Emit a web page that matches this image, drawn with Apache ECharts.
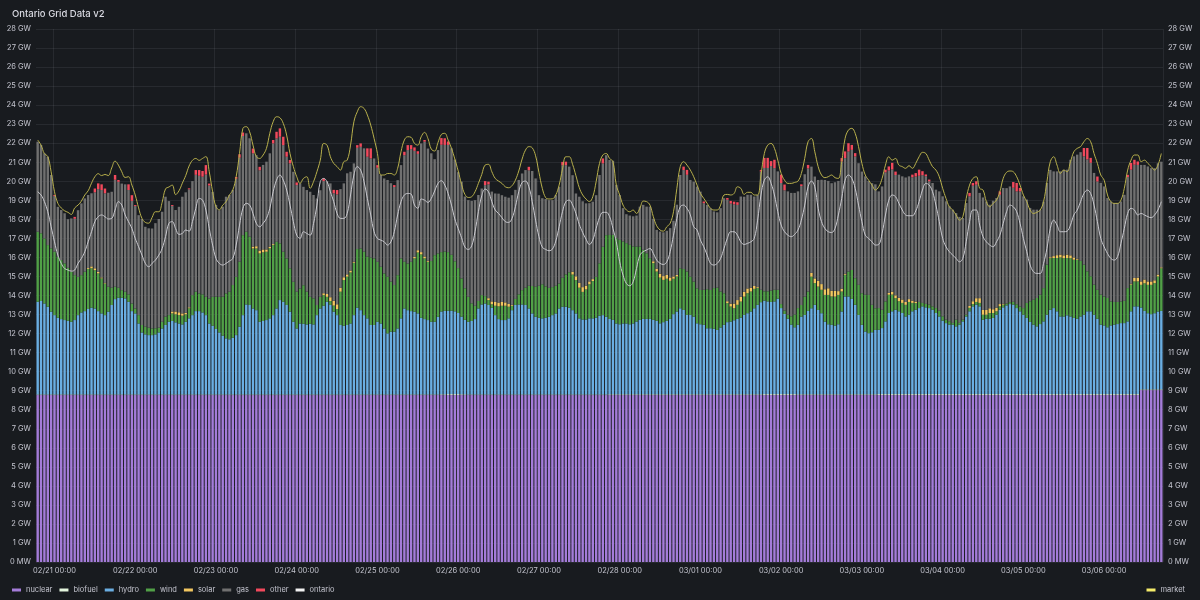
<!DOCTYPE html>
<html>
<head>
<meta charset="utf-8">
<script src="https://cdn.jsdelivr.net/npm/echarts@6/dist/echarts.min.js"></script>
<style>
html,body{margin:0;padding:0;background:#181b1f;}
#chart{width:1200px;height:600px;}
</style>
</head>
<body>
<div id="chart"></div>
<script>
// Hourly values in GW, 02/20 19:00 .. 03/06 17:00 (335 hours)
const START_UTC = Date.UTC(2025, 1, 20, 19);
const HOURS = 335;

const nuclear = [
8.77,8.77,8.77,8.77,8.77,8.77,8.77,8.77,8.77,8.77, 8.77,8.77,8.77,8.77,8.77,8.77,8.77,8.77,8.77,8.77,
8.77,8.77,8.77,8.77,8.77,8.77,8.77,8.77,8.77,8.77, 8.77,8.77,8.77,8.77,8.77,8.77,8.77,8.77,8.77,8.77,
8.77,8.77,8.77,8.77,8.77,8.77,8.77,8.77,8.77,8.77, 8.77,8.77,8.77,8.77,8.77,8.77,8.77,8.77,8.77,8.77,
8.77,8.77,8.77,8.77,8.77,8.77,8.77,8.77,8.77,8.77, 8.77,8.77,8.77,8.77,8.77,8.77,8.77,8.77,8.77,8.77,
8.77,8.77,8.77,8.77,8.77,8.77,8.77,8.77,8.77,8.77, 8.77,8.77,8.77,8.77,8.77,8.77,8.77,8.77,8.77,8.77,
8.77,8.77,8.77,8.77,8.77,8.77,8.77,8.77,8.77,8.77, 8.77,8.77,8.77,8.77,8.77,8.77,8.77,8.77,8.77,8.77,
8.77,8.77,8.77,8.77,8.77,8.77,8.77,8.77,8.77,8.77, 8.77,8.77,8.77,8.77,8.77,8.77,8.77,8.77,8.77,8.77,
8.77,8.77,8.77,8.77,8.77,8.77,8.77,8.77,8.77,8.77, 8.77,8.77,8.77,8.77,8.77,8.77,8.77,8.77,8.77,8.77,
8.77,8.77,8.77,8.77,8.77,8.77,8.77,8.77,8.77,8.77, 8.77,8.77,8.77,8.77,8.77,8.77,8.77,8.77,8.77,8.77,
8.77,8.77,8.77,8.77,8.77,8.77,8.77,8.77,8.77,8.77, 8.77,8.77,8.77,8.77,8.77,8.77,8.77,8.77,8.77,8.77,
8.77,8.77,8.77,8.77,8.77,8.77,8.77,8.77,8.77,8.77, 8.77,8.77,8.77,8.77,8.77,8.77,8.77,8.77,8.77,8.77,
8.77,8.77,8.77,8.77,8.77,8.77,8.77,8.77,8.77,8.77, 8.77,8.77,8.77,8.77,8.77,8.77,8.77,8.77,8.77,8.77,
8.77,8.77,8.77,8.77,8.77,8.77,8.77,8.77,8.77,8.77, 8.77,8.77,8.77,8.77,8.77,8.77,8.77,8.77,8.77,8.77,
8.77,8.77,8.77,8.77,8.77,8.77,8.77,8.77,8.77,8.77, 8.77,8.77,8.77,8.77,8.77,8.77,8.77,8.77,8.77,8.77,
8.77,8.77,8.77,8.77,8.77,8.77,8.77,8.77,8.77,8.77, 8.77,8.77,8.77,8.77,8.77,8.77,8.77,8.77,8.77,8.77,
8.77,8.77,8.77,8.77,8.77,8.77,8.77,8.77,8.77,8.77, 8.77,8.77,8.77,8.77,8.77,8.77,8.77,8.77,8.77,8.77,
8.77,8.77,8.77,8.77,8.77,8.77,8.77,8.77,9.03,9.03, 9.03,9.03,9.03,9.03,9.03
];

const biofuel = [
0.03,0.03,0.03,0.03,0.03,0.03,0.03,0.03,0.03,0.03, 0.03,0.03,0.03,0.03,0.03,0.03,0.03,0.03,0.03,0.03,
0.03,0.03,0.03,0.03,0.03,0.03,0.03,0.03,0.03,0.03, 0.03,0.03,0.03,0.03,0.03,0.03,0.03,0.03,0.03,0.03,
0.03,0.03,0.03,0.03,0.03,0.03,0.03,0.03,0.03,0.03, 0.03,0.03,0.03,0.03,0.03,0.03,0.03,0.03,0.03,0.03,
0.03,0.03,0.03,0.03,0.03,0.03,0.03,0.03,0.03,0.03, 0.03,0.03,0.03,0.03,0.03,0.03,0.03,0.03,0.03,0.03,
0.03,0.03,0.03,0.03,0.03,0.03,0.03,0.03,0.03,0.03, 0.03,0.03,0.03,0.03,0.03,0.03,0.03,0.03,0.03,0.03,
0.03,0.03,0.03,0.03,0.03,0.03,0.03,0.03,0.03,0.03, 0.03,0.03,0.03,0.03,0.03,0.03,0.03,0.03,0.03,0.03,
0.04,0.04,0.05,0.05,0.05,0.05,0.04,0.04,0.03,0.03, 0.03,0.03,0.03,0.03,0.03,0.03,0.03,0.03,0.03,0.03,
0.03,0.03,0.03,0.03,0.03,0.03,0.03,0.03,0.03,0.03, 0.03,0.03,0.03,0.03,0.03,0.03,0.03,0.03,0.03,0.03,
0.03,0.03,0.03,0.03,0.03,0.03,0.03,0.03,0.03,0.03, 0.04,0.04,0.04,0.04,0.04,0.04,0.04,0.04,0.04,0.04,
0.04,0.04,0.04,0.04,0.04,0.04,0.04,0.04,0.04,0.04, 0.04,0.04,0.04,0.04,0.04,0.04,0.04,0.04,0.04,0.04,
0.04,0.04,0.04,0.04,0.04,0.04,0.04,0.04,0.04,0.04, 0.04,0.04,0.04,0.04,0.04,0.04,0.05,0.05,0.05,0.05,
0.05,0.05,0.05,0.05,0.05,0.05,0.04,0.04,0.04,0.04, 0.04,0.04,0.04,0.04,0.04,0.04,0.04,0.04,0.04,0.04,
0.04,0.04,0.04,0.04,0.04,0.04,0.04,0.04,0.04,0.04, 0.05,0.05,0.05,0.05,0.05,0.05,0.05,0.05,0.05,0.05,
0.05,0.05,0.05,0.05,0.05,0.05,0.05,0.05,0.05,0.05, 0.05,0.05,0.05,0.05,0.05,0.05,0.05,0.05,0.05,0.05,
0.05,0.05,0.05,0.05,0.05,0.05,0.05,0.05,0.05,0.05, 0.05,0.05,0.05,0.05,0.05,0.05,0.05,0.05,0.05,0.05,
0.05,0.05,0.05,0.05,0.05,0.05,0.05,0.05,0.05,0.05, 0.05,0.05,0.05,0.05,0.05,0.05,0.05,0.05,0.05,0.05,
0.05,0.05,0.05,0.05,0.05,0.05,0.05,0.05,0.04,0.04, 0.04,0.04,0.04,0.04,0.04
];

const hydro = [
4.87,4.91,4.78,4.61,4.35,4.17,4.03,3.96,3.91,3.87, 3.82,3.91,4.17,4.31,4.38,4.49,4.56,4.52,4.38,4.26,
4.17,4.35,4.7,5.01,5.08,5.08,5.05,4.87,4.38,4.26, 3.73,3.26,3.16,3.12,3.12,3.16,3.26,3.47,3.65,3.82,
3.86,3.79,3.73,3.68,3.82,4.0,4.17,4.38,4.38,4.31, 4.17,3.73,3.61,3.44,3.26,3.09,
2.95,2.9,2.98,3.12,3.56,4.17,4.73,4.7,4.52,4.43, 3.82,3.86,3.91,4.0,4.17,4.52,4.96,4.87,4.7,4.35,
3.82,3.47,3.73,3.71,3.68,3.71,3.68,4.17,4.52,4.66, 4.87,4.7,4.35,4.17,3.65,3.61,3.65,3.73,4.17,4.56,
4.43,4.17,4.0,3.65,3.65,3.82,3.73,3.47,3.21,3.3, 3.3,3.47,4.0,4.52,4.43,
4.38,4.35,4.26,4.03,3.96,3.91,3.82,3.82,4.08,4.35, 4.38,4.38,4.38,4.35,4.26,4.08,3.91,3.82,3.86,3.96,
4.52,4.73,4.78,4.7,4.56,4.17,3.96,3.91,3.91,4.0, 4.43,4.7,4.73,4.73,4.7,4.52,4.26,4.08,4.03,4.0,
4.03,4.08,4.17,4.26,4.52,4.61,4.61,4.56,4.43,4.26, 4.0,3.94,3.94,4.0,4.0,4.03,4.14,4.17,
4.08,3.96,3.91,3.72,3.68,3.72,3.72,3.68,3.72,3.82, 3.91,3.96,3.96,3.96,3.91,3.86,3.73,3.79,3.86,3.96,
4.21,4.35,4.52,4.43,4.17,4.17,4.08,3.73,3.68,3.65, 3.47,3.47,3.44,3.38,3.51,3.65,3.79,3.82,3.89,3.96,
4.03,4.17,4.26,4.35,4.52,4.7,4.84,4.91,4.87,4.84, 4.87,5.01,4.52,4.21,3.96,3.65,
3.51,3.65,4.08,4.17,4.38,4.52,4.7,4.43,4.26,3.82, 3.68,3.65,3.61,3.68,4.35,5.14,5.14,5.01,4.7,4.17,
3.65,3.3,3.21,3.26,3.38,3.38,3.47,3.82,4.26,4.35, 4.43,4.35,4.26,4.08,4.17,4.35,4.43,4.52,4.61,4.56,
4.52,4.43,4.26,4.08,3.86,3.73,3.65,3.65,3.56,3.65, 3.82,4.08,4.35,4.61,4.7,4.61,
3.91,3.96,3.96,4.0,4.17,4.43,4.56,4.66,4.73,4.7, 4.52,4.35,4.17,4.0,3.79,3.65,3.56,3.68,3.82,4.17,
4.43,4.52,4.35,4.08,4.08,4.14,4.08,4.0,3.96,4.08, 4.17,4.35,4.35,4.17,3.96,3.65,3.61,3.51,3.61,3.65,
3.68,3.73,3.73,3.82,4.35,4.61,4.61,4.3,4.12,4.0, 3.95,4.0,4.09,4.12
];

const wind = [
3.68,3.56,3.42,3.24,3.33,3.33,3.2,3.1,2.98,2.78, 2.63,2.36,2.01,1.96,2.07,2.1,2.07,2.01,1.98,1.84,
1.66,1.31,0.91,0.65,0.53,0.4,0.35,0.39,0.4,0.26, 0.44,0.39,0.4,0.39,0.35,0.32,0.25,0.35,0.44,0.35,
0.4,0.42,0.44,0.46,0.39,0.53,1.05,1.02,0.93,0.95, 0.96,1.31,1.52,1.7,1.87,2.05,
2.36,2.5,2.77,3.06,3.42,4.2,3.82,3.59,3.15,3.24, 3.59,3.61,3.59,3.68,3.68,3.5,2.98,2.63,2.45,2.28,
2.1,1.93,1.84,2.03,1.72,1.42,1.37,0.53,0.61,0.56, 0.26,0.21,0.32,0.32,1.75,2.4,2.54,2.68,2.75,3.08,
3.24,3.33,3.24,3.54,3.5,3.15,2.98,2.89,2.98,2.63, 2.45,2.8,3.15,2.45,2.45,
2.59,2.8,3.2,3.33,3.19,3.06,3.19,3.5,3.33,3.12, 3.12,3.08,2.94,2.63,2.36,2.01,1.66,1.31,0.93,0.7,
0.39,0.49,0.39,0.26,0.18,0.49,0.67,0.75,0.75,0.61, 0.23,0.32,0.53,0.75,0.91,1.19,1.44,1.58,1.68,1.79,
1.65,1.52,1.47,1.45,1.31,1.52,1.7,1.86,1.87,1.75, 1.61,1.45,1.58,1.79,1.96,2.15,2.75,3.59,
4.29,4.41,4.47,4.48,4.43,4.31,4.22,4.17,4.05,3.94, 3.85,3.63,3.45,3.19,2.98,2.59,2.4,2.22,2.21,2.0,
1.86,1.84,2.1,2.15,2.28,2.01,1.84,1.84,1.8,1.84, 2.05,2.01,2.14,2.22,1.89,1.66,1.0,0.79,0.63,0.74,
0.84,0.96,1.05,1.05,1.02,0.88,0.65,0.49,0.53,0.6, 0.61,0.47,0.21,0.18,0.21,0.44,
0.67,0.88,0.61,0.96,1.02,1.66,1.14,1.23,1.23,1.4, 1.54,1.49,1.52,1.54,1.05,1.14,1.31,1.52,1.4,1.58,
1.66,1.93,2.01,1.44,1.14,1.14,0.96,1.05,0.96,0.88, 0.61,0.53,0.53,0.61,0.67,0.44,0.35,0.32,0.18,0.18,
0.18,0.18,0.26,0.3,0.23,0.18,0.18,0.09,0.35,0.09, 0.09,0.09,0.18,0.12,0.14,0.18,
0.26,0.21,0.3,0.26,0.18,0.18,0.14,0.1,0.1,0.15, 0.2,0.25,0.35,0.79,1.09,1.31,1.49,1.54,1.75,2.63,
2.71,2.63,2.8,3.1,3.06,3.01,3.06,3.06,3.1,2.92, 2.63,2.1,1.84,1.58,1.52,1.58,1.52,1.54,1.26,1.19,
1.16,1.14,1.17,1.75,1.4,1.31,1.31,1.19,1.45,1.49, 1.54,1.58,1.84,2.24
];

const solar = [
0,0,0,0,0,0,0,0,0,0, 0,0,0,0,0,0.05,0.1,0.1,0.08,0.05,
0.03,0,0,0,0,0,0,0,0,0, 0,0,0,0,0,0,0,0,0,0,
0.1,0.15,0.15,0.12,0.08,0.05,0,0,0,0, 0,0,0,0,0,0,0,0,0,0,
0,0,0,0,0.1,0.12,0.15,0.15,0.12,0.08, 0.05,0,0,0,0,0,0,0,0,0,
0,0,0,0,0,0.1,0.15,0.2,0.25,0.25, 0.2,0.15,0.12,0.1,0.05,0,0,0,0,0,
0,0,0,0,0,0,0,0,0,0, 0,0,0.08,0.12,0.12,0.1,0.05,0,0,0,
0,0,0,0,0,0,0,0,0,0, 0,0,0,0,0.1,0.15,0.2,0.2,0.2,0.18,
0.15,0.05,0,0,0,0,0,0,0,0, 0,0,0,0,0,0,0,0,0,0.15,
0.2,0.25,0.25,0.2,0.15,0.1,0,0,0,0, 0,0,0,0,0,0,0,0,0,0,
0,0,0,0.1,0.15,0.2,0.2,0.2,0.18,0.12, 0.08,0,0,0,0,0,0,0,0,0,
0,0,0,0,0,0.1,0.15,0.25,0.25,0.25, 0.25,0.25,0.2,0.15,0.05,0,0,0,0,0,
0,0,0,0,0,0,0,0,0,0, 0.2,0.25,0.3,0.3,0.3,0.35,0.3,0.3,0.2,0.15,
0.05,0,0,0,0,0,0,0,0,0, 0,0,0,0.1,0.15,0.15,0.18,0.18,0.15,0.15,
0.12,0.08,0,0,0,0,0,0,0,0, 0,0,0,0,0,0,0,0.1,0.15,0.2,
0.25,0.25,0.25,0.25,0.2,0.18,0.12,0.05,0,0, 0,0,0,0,0,0,0,0,0,0,
0,0.05,0.1,0.15,0.15,0.15,0.18,0.15,0.12,0.05, 0,0,0,0,0,0,0,0,0,0,
0,0,0,0,0,0.05,0.18,0.2,0.18,0.2, 0.18,0.18,0.15,0.1,0.05
];

const gas = [
4.73,4.64,4.47,4.64,3.85,2.93,2.63,2.63,2.63,2.56, 2.8,2.96,3.5,3.77,3.85,3.84,3.84,3.99,4.35,4.59,
4.71,4.94,5.04,5.62,5.56,5.6,5.64,5.48,5.39,5.38, 5.25,5.57,5.25,5.22,5.25,5.52,5.71,5.78,6.3,5.99,
5.54,5.33,5.54,6.13,6.33,6.2,5.99,6.14,6.18,6.18, 6.42,5.94,5.52,4.82,4.55,4.73,
5.08,5.08,4.99,5.15,5.46,5.21,5.17,5.17,4.9,4.78, 4.22,4.44,4.61,4.91,5.29,5.43,5.6,5.6,5.34,5.51,
5.78,5.6,5.52,5.17,5.34,5.52,5.43,5.6,5.6,5.89, 5.93,5.98,5.65,5.77,5.19,4.93,5.31,5.19,5.17,5.32,
5.34,5.43,5.25,5.21,5.25,4.94,4.82,4.99,5.08,5.17, 5.15,4.99,4.9,5.6,5.96,
5.92,5.57,5.06,5.71,6.03,5.9,5.66,5.04,5.43,5.64, 5.6,5.63,5.6,5.34,5.04,5.08,4.82,5.08,5.38,5.55,
5.57,5.6,5.83,5.98,5.77,5.7,5.72,5.61,5.55,5.58, 5.76,5.73,6.01,6.13,6.18,6.07,6.04,5.69,4.76,4.52,
4.59,4.61,4.57,4.76,5.08,5.91,5.74,5.55,5.07,4.35, 4.53,4.51,4.32,4.11,4.07,4.29,4.64,4.38,
4.2,3.94,3.89,2.8,2.36,1.75,1.52,1.54,1.58,1.63, 2.1,2.36,2.45,2.71,2.23,2.04,2.22,2.3,2.32,2.59,
2.93,3.69,4.9,5.2,5.08,5.08,5.25,5.34,5.17,4.55, 4.43,4.29,4.03,3.96,4.38,4.99,5.33,5.26,5.21,5.0,
5.27,5.0,4.92,4.88,4.7,4.85,6.21,6.48,6.48,6.54, 6.39,6.22,6.36,6.32,6.48,6.48,
6.39,6.13,6.25,6.43,6.47,5.58,5.35,5.3,5.48,5.74, 5.64,5.65,5.71,5.79,6.68,6.08,6.3,6.31,6.39,6.39,
6.39,6.22,5.99,6.39,6.51,6.13,6.48,6.78,6.43,6.42, 6.32,6.47,6.47,6.54,6.45,6.48,6.57,6.63,6.71,6.71,
6.48,6.48,6.22,6.27,6.3,6.22,6.04,5.95,5.6,5.57, 5.34,5.87,5.76,6.07,5.96,5.53,
5.91,5.7,5.44,5.7,5.77,5.74,6.08,6.06,6.08,5.99, 5.93,6.05,5.87,5.43,4.9,4.73,4.64,4.47,4.55,4.29,
4.59,4.45,4.4,4.37,4.49,4.46,5.02,5.31,5.47,5.71, 5.69,5.88,5.96,5.87,5.69,5.87,5.78,5.25,5.25,5.2,
5.2,5.25,5.57,5.83,5.99,5.95,5.92,6.12,6.02,6.04, 5.95,5.89,5.85,5.55
];

const other = [
0,0,0,0,0,0.05,0,0,0,0, 0,0.1,0,0,0,0,0,0.2,0.3,0.3,
0.25,0,0,0.25,0.1,0,0,0.3,0.3,0.05, 0,0,0,0,0,0,0,0,0,0,
0.05,0,0,0,0,0.05,0,0.25,0.3,0.3, 0.5,0.1,0,0,0,0,0,0,0,0.1,
0.18,0.18,0,0,0.25,0,0.18,0,0,0, 0.18,0.35,0.44,0.44,0.26,0.18,0,0.14,0,0,
0,0,0,0,0,0.14,0,0,0.18,0.23, 0,0,0,0,0,0.14,0.18,0,0.44,0.53,
0,0.14,0,0,0,0,0.1,0,0,0.18, 0.26,0.21,0.18,0.14,0,0.09,0,0,0,0,
0.35,0.35,0.18,0,0,0,0,0,0,0, 0,0,0,0.21,0.14,0,0,0,0,0,
0,0,0,0,0,0,0.18,0,0,0, 0,0,0,0,0,0,0.18,0.18,0,0,
0,0,0,0,0,0,0,0,0.26,0, 0,0,0,0,0,0,0,0,0,0,
0,0,0,0,0,0,0,0,0,0, 0,0,0.18,0.26,0,0,0,0,0.09,0,
0,0,0,0,0,0.09,0.14,0.14,0.14,0, 0,0,0,0,0,0.09,0.53,0.53,0.26,0.44,
0,0.44,0.3,0,0,0,0,0.09,0,0.18, 0,0,0,0,0,0,0,0,0,0.18,
0.35,0.44,0.26,0.18,0,0,0,0,0,0, 0,0,0.14,0.21,0.35,0.18,0,0,0,0,
0.14,0.18,0.32,0.21,0.09,0.09,0,0,0,0, 0,0,0,0,0,0,0,0.18,0.14,0.18,
0,0,0,0,0,0,0.18,0,0,0, 0.3,0.44,0.18,0,0,0,0,0,0,0,
0,0,0,0,0,0,0,0,0,0, 0,0.44,0.6,0.26,0,0.26,0,0,0,0,
0,0,0,0,0.12,0.35,0.26,0.18,0,0, 0,0,0,0,0
];

const ontario = [
19.45,19.28,18.93,18.4,17.61,16.82,16.12,15.69,15.42,15.34, 15.28,15.34,15.69,15.95,16.3,16.82,17.35,17.88,18.14,18.23,
18.14,18.02,18.05,18.49,18.93,18.75,18.23,17.88,17.52,17.0, 16.56,16.12,15.69,15.51,15.69,15.86,16.12,16.47,17.09,17.79,
17.88,17.52,17.21,17.26,17.44,17.38,17.88,18.58,19.1,19.01, 18.49,17.52,16.65,15.95,15.69,15.6,
15.69,15.81,15.95,16.65,17.7,18.58,18.84,18.75,18.31,17.79, 17.61,17.79,18.05,18.58,19.45,20.06,20.33,20.06,19.54,18.75,
17.88,17.17,17.0,17.35,17.26,17.17,17.79,18.75,19.98,20.15, 19.98,19.45,18.93,18.31,18.05,18.05,18.31,19.28,20.33,20.77,
20.59,19.98,19.1,18.23,17.35,17.0,16.91,16.82,16.65,16.82, 17.35,18.23,18.93,19.28,19.36,
19.33,18.75,18.58,19.07,19.01,18.89,19.1,19.49,19.89,20.03, 19.8,19.36,18.75,18.02,17.52,17.03,16.54,16.42,16.61,17.35,
18.4,19.24,19.59,19.45,18.93,18.49,18.31,18.09,17.88,17.84, 18.05,18.66,19.45,19.94,20.01,19.71,18.93,17.96,17.09,16.54,
16.42,16.35,16.44,16.86,17.61,18.4,18.93,19.01,18.75,18.31, 17.73,17.31,16.96,16.68,16.91,17.52,18.09,18.37,
18.37,18.14,17.52,16.82,15.77,15.07,14.63,14.51,14.72,15.42, 16.12,16.3,16.39,16.47,16.21,15.86,15.69,15.63,15.77,16.3,
17.17,18.05,18.66,18.75,18.58,18.23,17.61,17.44,16.91,16.56, 16.12,15.69,15.6,15.69,15.95,16.47,17.0,17.35,17.35,17.17,
16.82,16.68,16.74,16.82,17.0,17.96,19.28,20.06,20.24,19.89, 19.28,18.4,17.7,17.35,17.17,17.09,
17.21,17.44,17.96,18.75,19.71,20.01,19.71,18.58,17.88,17.52, 17.35,17.31,17.52,18.23,19.1,20.06,20.33,20.15,19.63,18.75,
17.88,17.17,17.0,16.82,16.65,16.68,17.26,18.23,19.01,19.28, 19.19,18.84,18.49,18.23,18.19,18.19,18.44,18.93,19.54,19.89,
19.8,19.45,18.75,17.88,17.0,16.56,16.3,16.12,15.95,15.77, 15.95,16.82,17.88,18.49,18.49,17.7,
17.09,16.82,16.65,16.56,16.82,17.17,17.79,18.4,18.75,18.66, 18.4,17.79,17.0,16.3,15.6,15.25,15.16,15.16,15.69,16.47,
17.52,17.96,17.7,17.35,17.35,17.38,17.7,18.23,18.49,18.93, 19.36,19.54,19.36,18.75,17.88,17.0,16.56,16.21,15.95,15.86,
16.04,16.74,17.52,18.31,18.58,18.49,18.23,18.31,18.23,18.14, 18.09,18.23,18.49,18.93
];

const market = [
22.17,21.9,21.45,21.3,20.5,19.45,18.84,18.6,18.45,18.37, 18.26,18.6,18.75,18.96,19.28,19.5,19.9,20.24,20.4,20.3,
20.36,20.3,20.7,21.06,20.85,20.5,20.2,20.24,19.8,19.28, 18.6,18.05,17.84,17.8,18.1,18.4,18.4,18.9,19.6,19.7,
19.8,19.3,19.5,19.9,20.3,20.8,21.1,21.2,21.1,21.2, 21.3,20.5,19.45,18.66,18.5,18.75,
18.93,19.28,19.54,20.24,21.46,22.78,22.87,22.6,21.9,21.29, 21.2,21.38,21.73,22.52,23.13,23.39,23.34,23.04,22.43,21.46,
20.77,20.24,19.89,20.15,20.24,19.63,19.98,20.5,21.11,21.99, 21.9,21.29,20.94,20.77,20.59,21.03,21.11,21.9,23.13,23.65,
23.92,23.83,23.48,22.95,22.25,21.46,20.33,20.33,20.41,20.41, 20.33,20.68,21.55,22.17,22.34,
22.31,21.99,21.9,22.34,22.57,22.25,21.69,21.59,22.04,22.46, 22.52,22.17,21.73,21.17,20.54,19.84,19.31,19.15,19.19,19.45,
19.89,20.36,20.85,20.89,20.5,20.15,20.01,19.89,19.71,19.66, 19.77,20.06,20.54,21.17,21.64,21.82,21.76,21.34,20.47,19.63,
19.14,19.07,19.08,19.28,19.8,20.64,21.29,21.29,20.89,20.29, 19.66,19.28,19.07,18.93,19.19,19.98,20.94,21.38,
21.46,21.2,21.03,19.8,19.28,18.75,18.49,18.4,18.49,18.31, 18.58,18.96,18.93,18.75,18.14,17.66,17.44,17.38,17.61,17.79,
18.4,19.63,20.77,21.03,20.85,20.59,20.24,19.8,19.36,19.1, 18.84,18.58,18.49,18.49,18.75,19.28,19.31,19.28,19.36,19.71,
19.63,19.31,19.42,19.42,19.28,19.28,20.33,21.46,21.9,21.99, 21.73,21.11,20.41,20.06,19.89,19.89,
19.94,20.01,20.41,21.2,22.08,22.25,21.55,20.77,20.33,20.19, 20.24,20.33,20.19,20.15,21.03,22.25,22.69,22.78,22.52,21.82,
20.94,20.33,20.06,19.8,19.54,19.71,20.15,20.85,21.29,21.11, 21.2,20.85,20.77,20.68,20.82,20.68,20.94,21.29,21.52,21.46,
21.11,20.77,20.59,20.24,19.63,19.1,18.66,18.49,18.23,17.96, 18.14,19.1,19.8,20.15,20.24,19.63,
19.54,18.93,18.66,18.84,19.01,19.45,20.15,20.47,20.54,20.5, 20.24,19.8,19.28,18.93,18.49,18.31,18.37,18.49,18.93,19.98,
21.03,21.29,20.85,20.41,20.59,20.5,21.03,21.55,21.73,21.82, 22.08,22.25,22.08,21.46,20.94,20.33,20.06,19.28,18.93,18.84,
18.84,19.01,19.63,20.59,21.11,21.38,21.38,21.03,21.11,20.94, 20.77,20.59,20.85,21.46
];

// category labels (hourly)
const categories = [];
for (let i = 0; i < HOURS; i++) {
  const d = new Date(START_UTC + i * 3600000);
  const p = n => String(n).padStart(2, '0');
  categories.push(p(d.getUTCMonth() + 1) + '/' + p(d.getUTCDate()) + ' ' + p(d.getUTCHours()) + ':00');
}
const isMidnight = (idx, val) => typeof val === 'string' ? val.slice(-5) === '00:00' : categories[idx].slice(-5) === '00:00';

const gwLabel = v => v === 0 ? '0 MW' : v + ' GW';

const TXT = '#c4c5cf';
const GRID = 'rgba(204,204,220,0.085)';
const FONT = 'Inter, "Noto Sans", sans-serif';

const barDefs = [
  ['nuclear', nuclear, '#a47cd9'],
  ['biofuel', biofuel, '#e3f5dc'],
  ['hydro', hydro, '#6aaee2'],
  ['wind', wind, '#51a047'],
  ['solar', solar, '#f2c760'],
  ['gas', gas, '#707070'],
  ['other', other, '#f2495c']
];

const series = barDefs.map(([name, data, color]) => ({
  name, type: 'bar', stack: 'gen', data,
  barCategoryGap: '28%',
  itemStyle: { color },
  emphasis: { disabled: true },
  xAxisIndex: 0, yAxisIndex: 0
}));
series.push({
  name: 'ontario', type: 'line', data: ontario, yAxisIndex: 0,
  smooth: 0.4, showSymbol: false, symbol: 'none',
  lineStyle: { color: '#c9c9cf', width: 1 }, itemStyle: { color: '#f2f2f2' },
  emphasis: { disabled: true }, z: 5
});
series.push({
  name: 'market', type: 'line', data: market, yAxisIndex: 1,
  smooth: 0.4, showSymbol: false, symbol: 'none',
  lineStyle: { color: '#b9b14c', width: 1 }, itemStyle: { color: '#f5ec6a' },
  emphasis: { disabled: true }, z: 6
});

const chart = echarts.init(document.getElementById('chart'), null, { renderer: 'canvas', width: 1200, height: 600 });
chart.setOption({
  backgroundColor: '#181b1f',
  animation: false,
  textStyle: { fontFamily: FONT },
  title: {
    text: 'Ontario Grid Data v2', left: 7, top: 4,
    textStyle: { color: '#d8d9e1', fontSize: 9.5, fontWeight: 500, fontFamily: FONT }
  },
  grid: { left: 36, right: 37, top: 29, bottom: 38, containLabel: false, outerBoundsMode: 'none' },
  legend: [
    {
      data: ['nuclear', 'biofuel', 'hydro', 'wind', 'solar', 'gas', 'other', 'ontario'],
      left: 7, top: 581, icon: 'rect', itemWidth: 9, itemHeight: 3, itemGap: 7,
      textStyle: { color: TXT, fontSize: 7.5, fontFamily: FONT }, selectedMode: false
    },
    {
      data: ['market'], right: 10, top: 581, icon: 'rect', itemWidth: 9, itemHeight: 3,
      textStyle: { color: TXT, fontSize: 7.5, fontFamily: FONT }, selectedMode: false
    }
  ],
  xAxis: {
    type: 'category', data: categories, boundaryGap: true,
    axisLine: { show: false }, axisTick: { show: false },
    axisLabel: { interval: isMidnight, color: TXT, fontSize: 7.5, margin: 5, fontFamily: FONT },
    splitLine: { show: true, interval: isMidnight, lineStyle: { color: GRID, width: 1 } }
  },
  yAxis: [
    {
      type: 'value', min: 0, max: 28, interval: 1, position: 'left',
      axisLine: { show: false }, axisTick: { show: false },
      axisLabel: { formatter: gwLabel, color: TXT, fontSize: 7.5, margin: 5, fontFamily: FONT },
      splitLine: { show: true, lineStyle: { color: GRID, width: 1 } }
    },
    {
      type: 'value', min: 0, max: 28, interval: 1, position: 'right',
      axisLine: { show: false }, axisTick: { show: false },
      axisLabel: { formatter: gwLabel, color: TXT, fontSize: 7.5, margin: 5, fontFamily: FONT },
      splitLine: { show: false }
    }
  ],
  series
});

// sanity check of array lengths
const bad = [['nuclear',nuclear],['biofuel',biofuel],['hydro',hydro],['wind',wind],['solar',solar],['gas',gas],['other',other],['ontario',ontario],['market',market]]
  .filter(([n,a]) => a.length !== HOURS).map(([n,a]) => n + ':' + a.length);
if (bad.length) {
  chart.setOption({ graphic: [{ type: 'text', left: 300, top: 5, style: { text: 'LEN ' + bad.join(' '), fill: '#ff0', fontSize: 12 } }] });
}
</script>
</body>
</html>
